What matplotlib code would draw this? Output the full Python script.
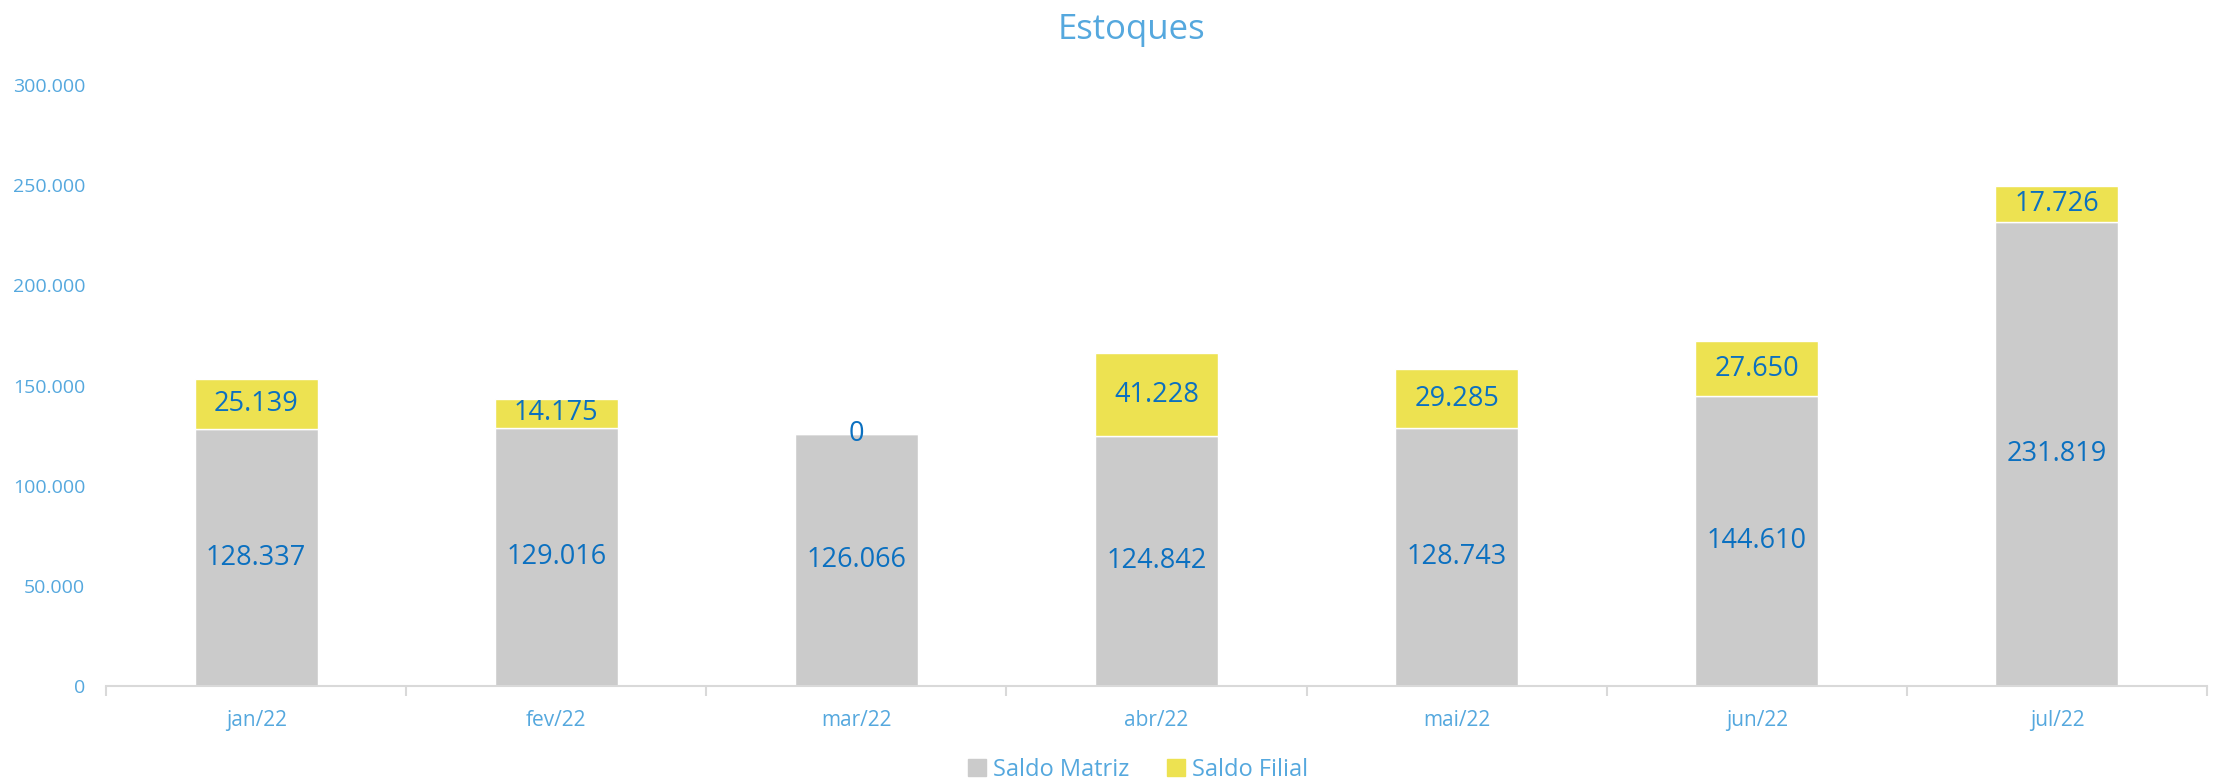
import numpy as np
import matplotlib.pyplot as plt
from matplotlib.ticker import FuncFormatter, FixedLocator
from matplotlib.patches import Patch

plt.switch_backend('Agg')
plt.rcParams['font.family'] = ['Open Sans', 'DejaVu Sans']

# Data
meses = ['jan/22', 'fev/22', 'mar/22', 'abr/22', 'mai/22', 'jun/22', 'jul/22']
saldo_matriz = [128337, 129016, 126066, 124842, 128743, 144610, 231819]
saldo_filial = [25139, 14175, 0, 41228, 29285, 27650, 17726]
y_ticks = [0, 50000, 100000, 150000, 200000, 250000, 300000]

cor_matriz = '#CBCBCB'
cor_filial = '#EDE251'
cor_texto = '#55A8DE'
cor_rotulo = '#0B70C0'


def fmt_br(v, pos=None):
    return f'{int(round(v)):,}'.replace(',', '.')


fig = plt.figure(figsize=(22.19, 7.81), dpi=100)
ax = fig.add_axes([0.0478, 0.1216, 0.9468, 0.7694])

x = np.arange(len(meses))
largura = 0.41
ax.bar(x, saldo_matriz, largura, color=cor_matriz, edgecolor='white', linewidth=1)
ax.bar(x, saldo_filial, largura, bottom=saldo_matriz, color=cor_filial,
       edgecolor='white', linewidth=1)

# data labels centred in each segment
for xi, m, f in zip(x, saldo_matriz, saldo_filial):
    ax.text(xi, m / 2, fmt_br(m), ha='center', va='center', fontsize=19.5, color=cor_rotulo)
    ax.text(xi, m + f / 2, fmt_br(f), ha='center', va='center', fontsize=19.5, color=cor_rotulo)

ax.set_xlim(-0.5, len(meses) - 0.5)
ax.set_ylim(0, 300000)
ax.set_yticks(y_ticks)
ax.yaxis.set_major_formatter(FuncFormatter(fmt_br))
ax.tick_params(axis='y', length=0, pad=15, labelsize=14, labelcolor=cor_texto)

ax.set_xticks(x)
ax.set_xticklabels(meses)
ax.xaxis.set_minor_locator(FixedLocator(np.arange(-0.5, len(meses), 1.0)))
ax.tick_params(axis='x', which='major', length=0, pad=17, labelsize=15, labelcolor=cor_texto)
ax.tick_params(axis='x', which='minor', length=7, width=1.5, color='#D9D9D9', direction='out')

for lado in ['top', 'right', 'left']:
    ax.spines[lado].set_visible(False)
ax.spines['bottom'].set_color('#D9D9D9')
ax.spines['bottom'].set_linewidth(1.5)

fig.text(0.510, 0.962, 'Estoques', ha='center', va='center', fontsize=25, color=cor_texto)

handles = [Patch(color=cor_matriz, label='Saldo Matriz'), Patch(color=cor_filial, label='Saldo Filial')]
fig.legend(handles=handles, loc='center', bbox_to_anchor=(0.513, 0.014), ncol=2,
           frameon=False, fontsize=17, labelcolor=cor_texto, handlelength=0.75,
           handleheight=0.75, handletextpad=0.3, columnspacing=1.6)

fig.savefig('out.png', dpi=100)
plt.close(fig)
